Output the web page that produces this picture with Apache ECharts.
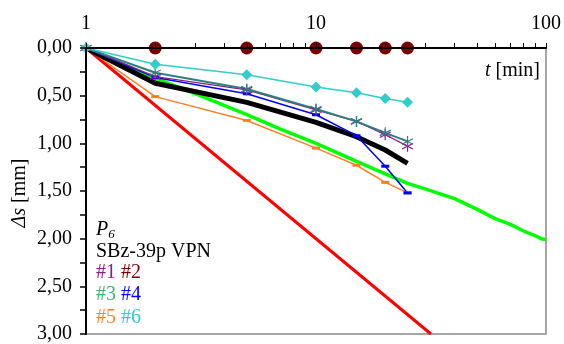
<!DOCTYPE html>
<html>
<head>
<meta charset="utf-8">
<script src="https://cdn.jsdelivr.net/npm/echarts@6/dist/echarts.min.js"></script>
<style>
  html, body { margin: 0; padding: 0; background: #fff; }
  #chart { width: 564px; height: 344px; }
</style>
</head>
<body>
<div id="chart"></div>
<script>
// Time steps of the readings [min]
const times = [1, 2, 5, 10, 15, 20, 25];

// Settlement increments Δs [mm] per measuring point
const s1 = [0, 0.30, 0.44, 0.65, 0.77, 0.91, 1.03];
const s1b = [0, 0.26, 0.43, 0.64, 0.77, 0.89, 0.98];
const s2 = [0, 0, 0, 0, 0, 0, 0];
const s4 = [0, 0.31, 0.48, 0.70, 0.92, 1.24, 1.52];
const s5 = [0, 0.51, 0.76, 1.05, 1.23, 1.41, 1.52];
const s6 = [0, 0.17, 0.28, 0.41, 0.47, 0.53, 0.57];
const sMean = [0, 0.37, 0.57, 0.78, 0.93, 1.07, 1.21];

// Continuous record of point #3
const t3 = [1, 2, 3, 5, 7, 10, 15, 20, 25, 30, 40, 50, 60, 70, 80, 90, 95, 100];
const s3 = [0, 0.32, 0.48, 0.70, 0.85, 1.00, 1.19, 1.32, 1.42, 1.48, 1.58, 1.69, 1.79, 1.85, 1.92, 1.97, 2.00, 2.01];

// Limit line
const tLim = [1, 31.6];
const sLim = [0, 3.0];

// Axis ticks
const xTicks = [1, 2, 3, 4, 5, 6, 7, 8, 9, 10, 20, 30, 40, 50, 60, 70, 80, 90, 100];
const xLabels = [1, 10, 100];

const FONT = 'Liberation Serif';
const ASTER = 'path://M5,0V10M0.67,2.5L9.33,7.5M0.67,7.5L9.33,2.5';

const pairs = (xs, ys) => xs.map((x, i) => [x, ys[i]]);

function line(data, color, width, symbol, size, extra) {
  return Object.assign({
    type: 'line',
    data: data,
    xAxisIndex: 0,
    yAxisIndex: 0,
    symbol: symbol || 'none',
    symbolSize: size || 0,
    showSymbol: !!symbol,
    lineStyle: { color: color, width: width },
    itemStyle: { color: color },
    animation: false,
    silent: true,
    z: 2
  }, extra || {});
}

// point #2: no marker at the starting reading
const s2Data = pairs(times, s2).map((p, i) => i === 0 ? { value: p, symbol: 'none' } : p);

function legendLine(y, a, ca, b, cb) {
  return {
    type: 'text', x: 96, y: y,
    style: {
      text: '{a|' + a + '} {b|' + b + '}', align: 'left', verticalAlign: 'middle',
      font: '20px ' + FONT, fill: '#000',
      rich: {
        a: { fill: ca, fontFamily: FONT, fontSize: 20 },
        b: { fill: cb, fontFamily: FONT, fontSize: 20 }
      }
    }
  };
}

const chart = echarts.init(document.getElementById('chart'), null, { renderer: 'canvas' });

chart.setOption({
  backgroundColor: '#fff',
  animation: false,
  grid: { left: 86, right: 17, top: 48, bottom: 10, containLabel: false },
  xAxis: [
    {
      type: 'log', logBase: 10, min: 1, max: 100, position: 'top',
      axisLine: { onZero: false, lineStyle: { color: '#000', width: 2 } },
      axisTick: { show: true, inside: false, length: 5, customValues: xTicks, lineStyle: { color: '#000', width: 1 } },
      axisLabel: { customValues: xLabels, fontFamily: FONT, fontSize: 20, color: '#000', margin: 14 },
      splitLine: { show: false },
      z: 5
    },
    {
      type: 'log', logBase: 10, min: 1, max: 100, position: 'bottom',
      axisLine: { onZero: false, lineStyle: { color: '#a6a6a6', width: 2 } },
      axisTick: { show: false }, axisLabel: { show: false }, splitLine: { show: false }
    }
  ],
  yAxis: [
    {
      type: 'value', min: 0, max: 3, interval: 0.5, inverse: true, position: 'left',
      axisLine: { onZero: false, lineStyle: { color: '#000', width: 2 } },
      axisTick: { show: true, inside: false, length: 6, lineStyle: { color: '#000', width: 1.5 } },
      minorTick: { show: true, splitNumber: 2, length: 6, lineStyle: { color: '#000', width: 1.5 } },
      axisLabel: {
        fontFamily: FONT, fontSize: 20, color: '#000', margin: 14,
        formatter: v => v.toFixed(2).replace('.', ',')
      },
      splitLine: { show: false },
      z: 5
    },
    {
      type: 'value', min: 0, max: 3, inverse: true, position: 'right',
      axisLine: { show: true, onZero: false, lineStyle: { color: '#a6a6a6', width: 2 } },
      axisTick: { show: false }, axisLabel: { show: false }, splitLine: { show: false }
    }
  ],
  series: [
    line(pairs(tLim, sLim), '#ff0000', 3),
    line(pairs(times, s5), '#ff7f27', 1.5, 'rect', [8, 3]),
    line(pairs(t3, s3), '#00ff00', 3.5),
    line(pairs(times, sMean), '#000000', 5),
    line(pairs(times, s4), '#0000ff', 1.5, 'rect', [8, 3]),
    line(pairs(times, s1), '#8b1a8b', 1.3, ASTER, 11,
      { itemStyle: { color: '#8b1a8b', borderColor: '#8b1a8b', borderWidth: 1.2 } }),
    line(pairs(times, s1b), '#2f7f80', 2, ASTER, 11,
      { itemStyle: { color: '#2f7f80', borderColor: '#2f7f80', borderWidth: 1.2 } }),
    line(pairs(times, s6), '#33cccc', 1.5, 'diamond', 11),
    line(s2Data, '#7b0000', 2, 'circle', 13)
  ],
  graphic: [
    {
      type: 'text', x: 540, y: 71,
      style: {
        text: '{i|t} [min]', align: 'right', verticalAlign: 'middle',
        font: '20px ' + FONT, fill: '#000',
        rich: { i: { fontStyle: 'italic', fontFamily: FONT, fontSize: 20 } }
      }
    },
    {
      type: 'text', x: 20, y: 193, rotation: Math.PI / 2,
      style: {
        text: '{i|Δs} [mm]', align: 'center', verticalAlign: 'middle',
        font: '20px ' + FONT, fill: '#000',
        rich: { i: { fontStyle: 'italic', fontFamily: FONT, fontSize: 20 } }
      }
    },
    {
      type: 'text', x: 96, y: 230,
      style: {
        text: '{i|P}{sub|6}', align: 'left', verticalAlign: 'middle',
        font: '20px ' + FONT, fill: '#000',
        rich: {
          i: { fontStyle: 'italic', fontFamily: FONT, fontSize: 20, verticalAlign: 'middle' },
          sub: { fontStyle: 'italic', fontFamily: FONT, fontSize: 13, padding: [10, 0, 0, 0], verticalAlign: 'middle' }
        }
      }
    },
    {
      type: 'text', x: 96, y: 252,
      style: { text: 'SBz-39p VPN', align: 'left', verticalAlign: 'middle', font: '20px ' + FONT, fill: '#000' }
    },
    legendLine(273, '#1', '#8b1a8b', '#2', '#7b0000'),
    legendLine(295, '#3', '#3cb371', '#4', '#0000ff'),
    legendLine(318, '#5', '#ff7f27', '#6', '#33cccc')
  ]
});
</script>
</body>
</html>
